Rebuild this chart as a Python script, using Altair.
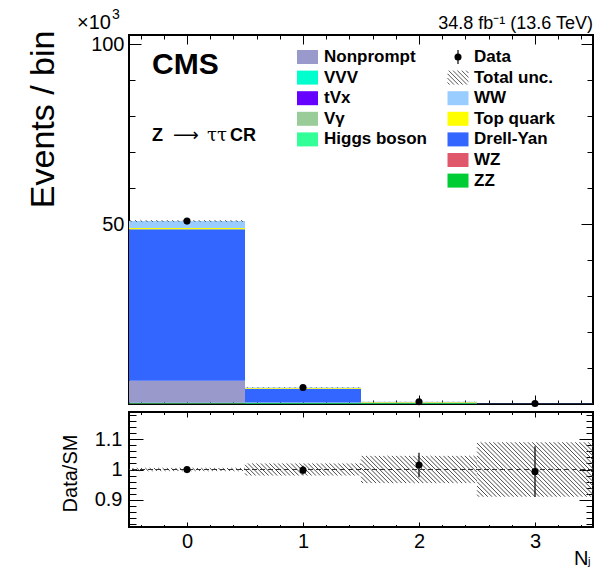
import altair as alt
import numpy as np
import pandas as pd

# ---- values -------------------------------------------------------------
N_JETS = [0, 1, 2, 3]

# expected yields per jet-multiplicity bin, thousands of events (stack order: bottom -> top)
ZZ = [0.15, 0.12, 0.12, 0.05]
WZ = [0.05, 0.04, 0.03, 0.01]
HIGGS = [0.20, 0.12, 0.10, 0.04]
VGAMMA = [0.05, 0.02, 0.01, 0.002]
TVX = [0.01, 0.01, 0.02, 0.01]
VVV = [0.01, 0.01, 0.005, 0.002]
NONPROMPT = [6.00, 0.10, 0.03, 0.005]
DRELL_YAN = [42.10, 3.80, 0.10, 0.01]
TOP_QUARK = [0.35, 0.25, 0.17, 0.01]
WW = [1.90, 0.14, 0.03, 0.002]

# observed events, thousands
DATA = [50.8, 4.6, 0.624, 0.140]
# relative total uncertainty on the prediction
REL_UNC = [0.005, 0.02, 0.045, 0.09]

PROCESS_NAMES = ["ZZ", "WZ", "Higgs boson", "Vγ", "tVx", "VVV",
                 "Nonprompt", "Drell-Yan", "Top quark", "WW"]
PROCESS_YIELDS = [ZZ, WZ, HIGGS, VGAMMA, TVX, VVV,
                  NONPROMPT, DRELL_YAN, TOP_QUARK, WW]
PROCESS_COLORS = ["#00cc33", "#e0566a", "#33ff99", "#99cc99", "#6600ff",
                  "#00ffcc", "#9999cc", "#3366ff", "#ffff00", "#99ccff"]

LEGEND_LEFT = ["Nonprompt", "VVV", "tVx", "Vγ", "Higgs boson"]
LEGEND_RIGHT = ["WW", "Top quark", "Drell-Yan", "WZ", "ZZ"]

# ---- geometry -------------------------------------------------------------
W = 464
H_TOP = 369
H_RAT = 115
X_DOM = [-0.5, 3.5]
Y_TOP_DOM = [0, 102.5]
Y_RAT_DOM = [0.81, 1.19]
FONT = "Liberation Sans"

XS = alt.Scale(domain=X_DOM, nice=False, zero=False)
YS_TOP = alt.Scale(domain=Y_TOP_DOM, nice=False, zero=False)
YS_RAT = alt.Scale(domain=Y_RAT_DOM, nice=False, zero=False)

# ---- tables ---------------------------------------------------------------
stack_rows = []
for order, (name, ys) in enumerate(zip(PROCESS_NAMES, PROCESS_YIELDS)):
    for nj, v in zip(N_JETS, ys):
        stack_rows.append(dict(nj=nj, lo=nj - 0.5, hi=nj + 0.5,
                               process=name, order=order, value=v))
stack_df = pd.DataFrame(stack_rows)

total = np.sum(np.array(PROCESS_YIELDS), axis=0)
data_arr = np.array(DATA)
ratio = data_arr / total
ratio_err = np.sqrt(data_arr * 1000.0) / 1000.0 / total
points_df = pd.DataFrame(dict(nj=N_JETS, data=DATA, ratio=ratio,
                              rlo=ratio - ratio_err, rhi=ratio + ratio_err))


def hatch(x0, x1, y0, y1, sx, sy, step):
    """Diagonal '\\' strokes filling a box, clipped to it (sx, sy: px per unit)."""
    bw = (x1 - x0) * sx
    bh = (y1 - y0) * sy
    segs = []
    c = step / 2.0
    while c < bw + bh:
        xs = max(c - bh, 0.0)
        xe = min(c, bw)
        if xe > xs:
            segs.append(dict(hx=x0 + xs / sx, hy=y0 + (c - xs) / sy,
                             hx2=x0 + xe / sx, hy2=y0 + (c - xe) / sy))
        c += step
    return segs


sx = W / (X_DOM[1] - X_DOM[0])
sy_top = H_TOP / (Y_TOP_DOM[1] - Y_TOP_DOM[0])
sy_rat = H_RAT / (Y_RAT_DOM[1] - Y_RAT_DOM[0])

top_hatch, rat_hatch = [], []
for nj, t, r in zip(N_JETS, total, REL_UNC):
    top_hatch += hatch(nj - 0.5, nj + 0.5, t * (1 - r), t * (1 + r), sx, sy_top, 5.3)
    rat_hatch += hatch(nj - 0.5, nj + 0.5, 1 - r, 1 + r, sx, sy_rat, 4.3)
top_hatch_df = pd.DataFrame(top_hatch)
rat_hatch_df = pd.DataFrame(rat_hatch)


def frange(a, b, step):
    n = int(round((b - a) / step))
    return [round(a + i * step, 4) for i in range(n + 1)]


X_MAJOR = N_JETS
X_MINOR = [v for v in frange(-0.4, 3.4, 0.2) if abs(v - round(v)) > 1e-6]
Y_TOP_MAJOR = [50, 100]
Y_TOP_MINOR = [v for v in frange(10, 100, 10) if v not in Y_TOP_MAJOR]
Y_RAT_MAJOR = [0.9, 1.0, 1.1]
Y_RAT_MINOR = [v for v in frange(0.82, 1.18, 0.02)
               if all(abs(v - m) > 1e-6 for m in Y_RAT_MAJOR)]


def tick_axis(orient, values, size, **kw):
    # ticks drawn inward: the axis is pulled into the frame by its own tick length
    opts = dict(orient=orient, values=values, tickSize=size, offset=-size,
                domain=False, grid=False, tickColor="black", tickWidth=1,
                labels=False, title=None)
    opts.update(kw)
    return alt.Axis(**opts)


def carrier(yscale, y0, xaxis, yaxis):
    df = pd.DataFrame(dict(ax=[0.0], ay=[y0]))
    return alt.Chart(df).mark_point(opacity=0).encode(
        x=alt.X("ax:Q", scale=XS, axis=xaxis),
        y=alt.Y("ay:Q", scale=yscale, axis=yaxis),
    )


# ---- upper panel ----------------------------------------------------------
fill_scale = alt.Scale(domain=PROCESS_NAMES, range=PROCESS_COLORS)

stack = alt.Chart(stack_df).transform_stack(
    stack="value", groupby=["nj"], as_=["v0", "v1"],
    sort=[alt.SortField("order", order="ascending")],
).mark_rect(strokeWidth=0).encode(
    x=alt.X("lo:Q", scale=XS, axis=None),
    x2="hi:Q",
    y=alt.Y("v0:Q", scale=YS_TOP, axis=None),
    y2="v1:Q",
    fill=alt.Fill("process:N", scale=fill_scale, legend=None),
)

top_unc = alt.Chart(top_hatch_df).mark_rule(color="#555555", strokeWidth=1).encode(
    x=alt.X("hx:Q", scale=XS, axis=None), x2="hx2:Q",
    y=alt.Y("hy:Q", scale=YS_TOP, axis=None), y2="hy2:Q",
)

top_pts = alt.Chart(points_df).mark_circle(color="black", opacity=1, size=50).encode(
    x=alt.X("nj:Q", scale=XS, axis=None),
    y=alt.Y("data:Q", scale=YS_TOP, axis=None),
)

top_axes = [
    carrier(YS_TOP, 50,
            tick_axis("bottom", X_MAJOR, 9),
            tick_axis("left", Y_TOP_MAJOR, 12, labels=True, format="d",
                      labelFontSize=20, labelFont=FONT, labelColor="black",
                      labelPadding=5,
                      title="Events / bin", titleFont=FONT, titleFontSize=34,
                      titleFontWeight="normal", titleColor="black",
                      titleAngle=270, titleAlign="right",
                      titleBaseline="alphabetic", titleX=-88, titleY=-5)),
    carrier(YS_TOP, 50, tick_axis("bottom", X_MINOR, 4),
            tick_axis("left", Y_TOP_MINOR, 6)),
    carrier(YS_TOP, 50, tick_axis("top", X_MAJOR, 9),
            tick_axis("right", Y_TOP_MAJOR, 12)),
    carrier(YS_TOP, 50, tick_axis("top", X_MINOR, 4),
            tick_axis("right", Y_TOP_MINOR, 6)),
]

top_main = alt.layer(stack, top_unc, top_pts, *top_axes).resolve_axis(
    x="independent", y="independent")

# legend block
ROW_Y = alt.Scale(domain=[0, 6], range=[22, 22 + 6 * 20.6])
RECT_SHAPE = "M-1.5,-1H1.5V1H-1.5Z"


def hatch_path(step=0.62):
    parts = []
    a = -1.5 - 2 + step / 2
    while a < 1.5:
        x0, y0 = a, -1.0
        x1, y1 = a + 2.0, 1.0
        if x0 < -1.5:
            y0 = -1.0 + (-1.5 - x0)
            x0 = -1.5
        if x1 > 1.5:
            y1 = 1.0 - (x1 - 1.5)
            x1 = 1.5
        if x1 > x0:
            parts.append(f"M{x0:.3f},{y0:.3f}L{x1:.3f},{y1:.3f}")
        a += step
    return "".join(parts)


leg_left_df = pd.DataFrame(dict(process=LEGEND_LEFT, row=list(range(len(LEGEND_LEFT)))))
leg_right_df = pd.DataFrame(dict(process=LEGEND_RIGHT,
                                 row=list(range(2, 2 + len(LEGEND_RIGHT)))))
leg_top_df = pd.DataFrame(dict(label=["Data", "Total unc."], row=[0, 1]))

COL1_SW, COL1_TX = 178.5, 195
COL2_SW, COL2_TX = 329, 345


def swatches(df, xpix):
    return alt.Chart(df).mark_point(shape=RECT_SHAPE, filled=True, size=196,
                                    opacity=1, strokeWidth=0).encode(
        x=alt.value(xpix),
        y=alt.Y("row:Q", scale=ROW_Y, axis=None),
        fill=alt.Fill("process:N", scale=fill_scale, legend=None),
    )


def labels(df, xpix, field):
    return alt.Chart(df).mark_text(align="left", baseline="middle", font=FONT,
                                   fontSize=17, fontWeight="bold",
                                   color="black").encode(
        x=alt.value(xpix),
        y=alt.Y("row:Q", scale=ROW_Y, axis=None),
        text=f"{field}:N",
    )


data_leg_df = leg_top_df.iloc[[0]]
unc_leg_df = leg_top_df.iloc[[1]]
legend_layers = [
    swatches(leg_left_df, COL1_SW),
    labels(leg_left_df, COL1_TX, "process"),
    swatches(leg_right_df, COL2_SW),
    labels(leg_right_df, COL2_TX, "process"),
    labels(leg_top_df, COL2_TX, "label"),
    alt.Chart(data_leg_df).mark_point(shape="M0,-1V1", filled=False, size=196,
                                      stroke="black", strokeWidth=1.2,
                                      opacity=1).encode(
        x=alt.value(COL2_SW), y=alt.Y("row:Q", scale=ROW_Y, axis=None)),
    alt.Chart(data_leg_df).mark_point(shape="circle", filled=True, size=50,
                                      color="black", opacity=1).encode(
        x=alt.value(COL2_SW), y=alt.Y("row:Q", scale=ROW_Y, axis=None)),
    alt.Chart(unc_leg_df).mark_point(shape=hatch_path(), filled=False, size=196,
                                     stroke="#555555", strokeWidth=1,
                                     opacity=1).encode(
        x=alt.value(COL2_SW), y=alt.Y("row:Q", scale=ROW_Y, axis=None)),
]

one = pd.DataFrame(dict(k=[0]))


def note(text, x, y, size, weight="normal", align="left", font=FONT):
    return alt.Chart(one).mark_text(text=text, align=align, baseline="alphabetic",
                                    font=font, fontSize=size, fontWeight=weight,
                                    color="black").encode(
        x=alt.value(x), y=alt.value(y))


notes = [
    note("×10", -18, -6, 20, align="right"),
    note("3", -17, -16, 14),
    note("34.8 fb⁻¹ (13.6 TeV)", W, -6, 18, align="right"),
    note("CMS", 23, 39, 30, weight="bold"),
    note("Z", 23, 106, 18, weight="bold"),
    note("⟶", 44, 106, 18, font="DejaVu Sans"),
    note("ττ", 78, 106, 18, font="DejaVu Serif"),
    note("CR", 101, 106, 18, weight="bold"),
]

top = alt.layer(top_main, *legend_layers, *notes).resolve_scale(
    x="independent", y="independent"
).properties(width=W, height=H_TOP)

# ---- ratio panel ----------------------------------------------------------
rat_unc = alt.Chart(rat_hatch_df).mark_rule(color="#4a4a4a", strokeWidth=1).encode(
    x=alt.X("hx:Q", scale=XS, axis=None), x2="hx2:Q",
    y=alt.Y("hy:Q", scale=YS_RAT, axis=None), y2="hy2:Q",
)

unity = alt.Chart(pd.DataFrame(dict(level=[1.0]))).mark_rule(
    color="#333333", strokeWidth=1, strokeDash=[5, 3]).encode(
    y=alt.Y("level:Q", scale=YS_RAT, axis=None))

rat_err = alt.Chart(points_df).mark_rule(color="black", strokeWidth=1.2).encode(
    x=alt.X("nj:Q", scale=XS, axis=None),
    y=alt.Y("rlo:Q", scale=YS_RAT, axis=None), y2="rhi:Q",
)

rat_pts = alt.Chart(points_df).mark_circle(color="black", opacity=1, size=50).encode(
    x=alt.X("nj:Q", scale=XS, axis=None),
    y=alt.Y("ratio:Q", scale=YS_RAT, axis=None),
)

rat_axes = [
    carrier(YS_RAT, 1.0,
            tick_axis("bottom", X_MAJOR, 5, labels=True, format="d",
                      labelFontSize=20, labelFont=FONT, labelColor="black",
                      labelPadding=4,
                      title="N", titleFont=FONT, titleFontSize=20,
                      titleFontWeight="normal", titleColor="black",
                      titleAlign="right", titleBaseline="alphabetic",
                      titleX=459, titleY=42),
            tick_axis("left", Y_RAT_MAJOR, 14, labels=True, format=".1~f",
                      labelFontSize=20, labelFont=FONT, labelColor="black",
                      labelPadding=7,
                      title="Data/SM", titleFont=FONT, titleFontSize=20,
                      titleFontWeight="normal", titleColor="black",
                      titleAngle=270, titleAlign="center",
                      titleBaseline="alphabetic", titleX=-67, titleY=61)),
    carrier(YS_RAT, 1.0, tick_axis("bottom", X_MINOR, 2.5),
            tick_axis("left", Y_RAT_MINOR, 7)),
    carrier(YS_RAT, 1.0, tick_axis("top", X_MAJOR, 5),
            tick_axis("right", Y_RAT_MAJOR, 14)),
    carrier(YS_RAT, 1.0, tick_axis("top", X_MINOR, 2.5),
            tick_axis("right", Y_RAT_MINOR, 7)),
]

subscript_j = note("j", 459, 153, 11)

bottom = alt.layer(rat_unc, unity, rat_err, rat_pts, *rat_axes, subscript_j).resolve_axis(
    x="independent", y="independent"
).properties(width=W, height=H_RAT)

chart = alt.vconcat(top, bottom, spacing=8, bounds="flush").properties(
    padding={"left": 25, "top": 7, "right": 5, "bottom": 5}
).configure_view(stroke="black", strokeWidth=2).configure_axis(
    labelFont=FONT, titleFont=FONT)

chart.save("out.html", embed_options={"renderer": "svg", "actions": False})
